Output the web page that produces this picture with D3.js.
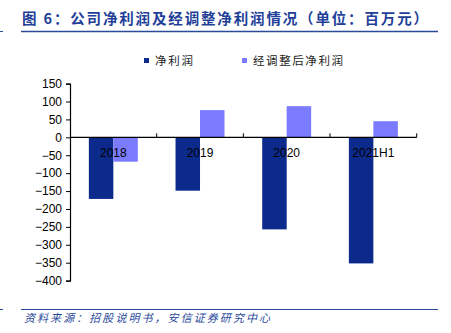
<!DOCTYPE html>
<html><head><meta charset="utf-8">
<script src="https://cdn.jsdelivr.net/npm/d3@7"></script>
<style>body{margin:0;background:#fff;}svg{display:block;}</style>
</head><body>
<script>
const categories = ["2018", "2019", "2020", "2021H1"];
const seriesNames = ["净利润", "经调整后净利润"];
const netProfit = [-172, -149, -257, -352];
const adjNetProfit = [-68, 76, 87, 45];
const yTicks = [150, 100, 50, 0, -50, -100, -150, -200, -250, -300, -350, -400];
const colors = ["#0C2A8C", "#7B7BFF"];
const titleText = "图 6：公司净利润及经调整净利润情况（单位：百万元）";
const sourceText = "资料来源：招股说明书，安信证券研究中心";

const W = 451, H = 333;
const svg = d3.select("body").append("svg").attr("width", W).attr("height", H);
const cjk = "'Noto Sans CJK SC', sans-serif";
const lat = "'Liberation Sans', Arial, sans-serif";

// title
svg.append("text").attr("x", 22).attr("y", 24).attr("fill", "#1F3F99")
  .attr("font-family", cjk).attr("font-weight", "bold").attr("font-size", 14.5)
  .attr("textLength", 406).attr("lengthAdjust", "spacing")
  .text(titleText);
svg.append("line").attr("x1", 21).attr("x2", 438).attr("y1", 31.5).attr("y2", 31.5)
  .attr("stroke", "#2A4A9A").attr("stroke-width", 1.5);
svg.append("line").attr("x1", 0).attr("x2", 3).attr("y1", 31.5).attr("y2", 31.5)
  .attr("stroke", "#2A4A9A").attr("stroke-width", 1);

// legend
const legX = [144, 242];
const legLen = [38, 90];
seriesNames.forEach((n, i) => {
  svg.append("rect").attr("x", legX[i]).attr("y", 58).attr("width", 5).attr("height", 5).attr("fill", colors[i]);
  svg.append("text").attr("x", legX[i] + 11).attr("y", 64.5).attr("font-family", cjk)
    .attr("font-size", 11.5).attr("textLength", legLen[i]).attr("lengthAdjust", "spacing")
    .attr("fill", "#222").text(n);
});

// scales
const y = d3.scaleLinear().domain([-400, 150]).range([280.6, 83.6]);
const x0 = d3.scaleBand().domain(categories).range([70, 416.7]).paddingInner(0).paddingOuter(0);
const inner = 0.565;
const x1 = d3.scaleBand().domain([0, 1]).range([0, x0.bandwidth() * inner]);
const off = x0.bandwidth() * (1 - inner) / 2;

const data = categories.map((c, i) => ({ c, v: [netProfit[i], adjNetProfit[i]] }));
const g = svg.append("g");
data.forEach(d => {
  d.v.forEach((v, k) => {
    g.append("rect")
      .attr("x", x0(d.c) + off + x1(k))
      .attr("width", x1.bandwidth())
      .attr("y", y(Math.max(0, v)))
      .attr("height", Math.abs(y(v) - y(0)))
      .attr("fill", colors[k]);
  });
});

// y axis
const yAxis = d3.axisLeft(y).tickValues(yTicks).tickSize(4).tickSizeOuter(4);
const ya = svg.append("g").attr("transform", "translate(70,0)").call(yAxis);
ya.select(".domain").attr("stroke", "#000").attr("stroke-width", 1.2);
ya.selectAll(".tick line").attr("stroke", "#000");
ya.selectAll("text").attr("font-family", lat).attr("font-size", 12).attr("fill", "#000").attr("x", -8);

// x axis at zero
const xa = svg.append("g").attr("transform", `translate(0,${y(0)})`);
xa.append("line").attr("x1", 70).attr("x2", 416.7).attr("y1", 0).attr("y2", 0).attr("stroke", "#000").attr("stroke-width", 1.2);
const bounds = categories.map(c => x0(c)).concat([x0.range()[1]]);
bounds.slice(1).forEach(b => {
  xa.append("line").attr("x1", b).attr("x2", b).attr("y1", 0).attr("y2", -4).attr("stroke", "#000");
});
categories.forEach(c => {
  xa.append("text").attr("x", x0(c) + x0.bandwidth() / 2).attr("y", 20)
    .attr("text-anchor", "middle").attr("font-family", lat).attr("font-size", 12).attr("fill", "#000").text(c);
});

// footer
svg.append("line").attr("x1", 21).attr("x2", 438).attr("y1", 309.5).attr("y2", 309.5)
  .attr("stroke", "#2A4A9A").attr("stroke-width", 1.2);
svg.append("line").attr("x1", 0).attr("x2", 3).attr("y1", 309.5).attr("y2", 309.5)
  .attr("stroke", "#2A4A9A").attr("stroke-width", 1);
svg.append("text").attr("x", 24).attr("y", 322).attr("font-family", cjk).attr("font-style", "italic")
  .attr("font-size", 11).attr("textLength", 246).attr("lengthAdjust", "spacing")
  .attr("fill", "#2A4A9A").text(sourceText);
</script>
</body></html>
